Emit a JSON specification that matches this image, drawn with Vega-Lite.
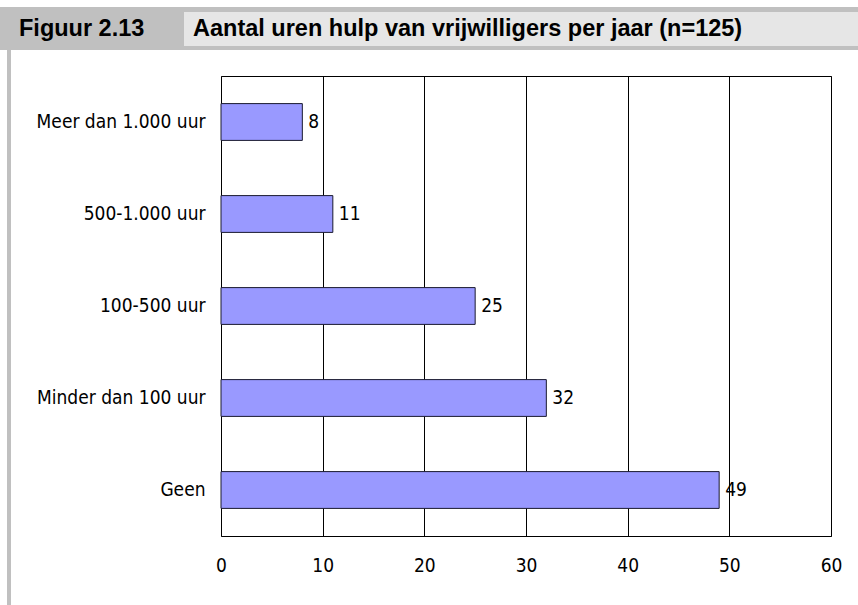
{
  "$schema": "https://vega.github.io/schema/vega-lite/v6.json",
  "padding": {"left": 0, "top": 7, "right": 0, "bottom": 0},
  "background": "white",
  "spacing": 0,
  "config": {
    "view": {"stroke": null},
    "font": "Liberation Sans"
  },
  "vconcat": [
    {
      "spacing": 0,
      "hconcat": [
        {
          "width": 184,
          "height": 43,
          "view": {"fill": "#c0c0c0", "stroke": null},
          "data": {"values": [{"label": "Figuur 2.13"}]},
          "mark": {
            "type": "text",
            "align": "left",
            "baseline": "middle",
            "dx": 19,
            "font": "Liberation Sans",
            "fontSize": 23.5,
            "fontWeight": "bold",
            "color": "#000000"
          },
          "encoding": {
            "text": {"field": "label", "type": "nominal"},
            "x": {"datum": 0, "type": "quantitative", "scale": {"domain": [0, 1]}, "axis": null},
            "y": {"datum": 0.5, "type": "quantitative", "scale": {"domain": [0, 1]}, "axis": null}
          }
        },
        {
          "spacing": 0,
          "bounds": "flush",
          "vconcat": [
            {
              "width": 674,
              "height": 5,
              "view": {"fill": "#c0c0c0", "stroke": null},
              "data": {"values": []},
              "mark": "rect"
            },
            {
              "width": 674,
              "height": 34,
              "view": {"fill": "#e6e6e6", "stroke": null},
              "data": {"values": [{"label": "Aantal uren hulp van vrijwilligers per jaar (n=125)"}]},
              "mark": {
                "type": "text",
                "align": "left",
                "baseline": "middle",
                "dx": 9,
                "font": "Liberation Sans",
                "fontSize": 23.5,
                "fontWeight": "bold",
                "color": "#000000"
              },
              "encoding": {
                "text": {"field": "label", "type": "nominal"},
                "x": {"datum": 0, "type": "quantitative", "scale": {"domain": [0, 1]}, "axis": null},
                "y": {"datum": 0.5, "type": "quantitative", "scale": {"domain": [0, 1]}, "axis": null}
              }
            },
            {
              "width": 674,
              "height": 4,
              "view": {"fill": "#c0c0c0", "stroke": null},
              "data": {"values": []},
              "mark": "rect"
            }
          ]
        }
      ]
    },
    {
      "spacing": 0,
      "hconcat": [
        {
          "spacing": 0,
          "bounds": "flush",
          "hconcat": [
            {
              "width": 7,
              "height": 555,
              "view": {"fill": "white", "stroke": null},
              "data": {"values": []},
              "mark": "rect"
            },
            {
              "width": 4,
              "height": 555,
              "view": {"fill": "#c0c0c0", "stroke": null},
              "data": {"values": []},
              "mark": "rect"
            }
          ]
        },
        {
          "spacing": 0,
          "bounds": "flush",
          "vconcat": [
            {
              "width": 610,
              "height": 26,
              "view": {"fill": "white", "stroke": null},
              "data": {"values": []},
              "mark": "rect"
            },
            {
              "width": 610,
              "height": 460,
              "view": {"fill": "white", "stroke": "#000000", "strokeWidth": 1},
              "data": {
                "values": [
                  {"categorie": "Meer dan 1.000 uur", "aantal": 8},
                  {"categorie": "500-1.000 uur", "aantal": 11},
                  {"categorie": "100-500 uur", "aantal": 25},
                  {"categorie": "Minder dan 100 uur", "aantal": 32},
                  {"categorie": "Geen", "aantal": 49}
                ]
              },
              "encoding": {
                "y": {
                  "field": "categorie",
                  "type": "nominal",
                  "sort": null,
                  "scale": {"paddingInner": 0, "paddingOuter": 0},
                  "axis": {
                    "title": null,
                    "ticks": false,
                    "domain": false,
                    "labelPadding": 16,
                    "minExtent": 209,
                    "labelFont": "DejaVu Sans Condensed, Liberation Sans, sans-serif",
                    "labelFontSize": 19,
                    "labelColor": "#000000",
                    "labelLimit": 400
                  }
                },
                "x": {
                  "field": "aantal",
                  "type": "quantitative",
                  "scale": {"domain": [0, 60], "nice": false},
                  "axis": {
                    "title": null,
                    "values": [0, 10, 20, 30, 40, 50, 60],
                    "grid": true,
                    "gridColor": "#000000",
                    "gridOpacity": 1,
                    "gridWidth": 1,
                    "ticks": false,
                    "domain": false,
                    "labelFlush": false,
                    "labelPadding": 20,
                    "labelFont": "DejaVu Sans Condensed, Liberation Sans, sans-serif",
                    "labelFontSize": 19,
                    "labelColor": "#000000"
                  }
                }
              },
              "layer": [
                {
                  "mark": {
                    "type": "bar",
                    "height": {"band": 0.4},
                    "fill": "#9999ff",
                    "stroke": "#1a1a2e",
                    "strokeWidth": 1
                  }
                },
                {
                  "mark": {
                    "type": "text",
                    "align": "left",
                    "baseline": "middle",
                    "dx": 6,
                    "font": "DejaVu Sans Condensed, Liberation Sans, sans-serif",
                    "fontSize": 19,
                    "color": "#000000"
                  },
                  "encoding": {"text": {"field": "aantal", "type": "quantitative"}}
                }
              ]
            }
          ]
        }
      ]
    }
  ]
}
